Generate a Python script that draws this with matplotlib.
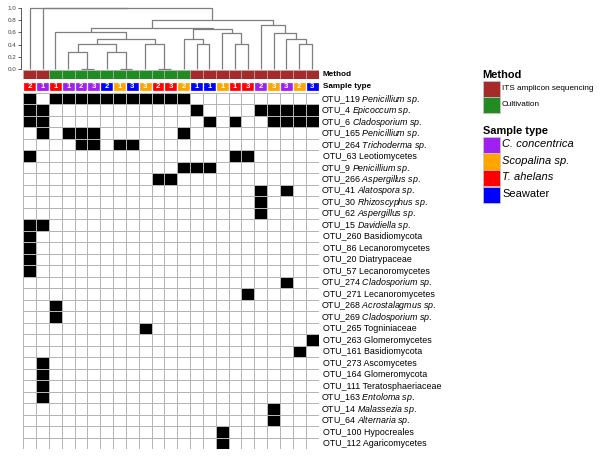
import matplotlib
matplotlib.use("Agg")
import matplotlib.pyplot as plt
import numpy as np
from matplotlib.colors import ListedColormap
from matplotlib.patches import Rectangle

plt.rcParams['font.family'] = ['Liberation Sans', 'DejaVu Sans']
plt.rcParams['mathtext.fontset'] = 'custom'
plt.rcParams['mathtext.rm'] = 'Liberation Sans'
plt.rcParams['mathtext.it'] = 'Liberation Sans:italic'

# ---- data ----
method = ['ITS'] * 2 + ['Cultivation'] * 11 + ['ITS'] * 10
sample_type = ['T. ahelans', 'C. concentrica', 'T. ahelans', 'C. concentrica', 'C. concentrica',
               'C. concentrica', 'Seawater', 'Scopalina sp.', 'Seawater', 'Scopalina sp.',
               'T. ahelans', 'T. ahelans', 'Scopalina sp.', 'Seawater', 'Seawater',
               'Scopalina sp.', 'T. ahelans', 'T. ahelans', 'C. concentrica', 'Scopalina sp.',
               'C. concentrica', 'Scopalina sp.', 'Seawater']
replicate = [2, 1, 1, 1, 2, 3, 2, 1, 3, 3, 2, 3, 2, 1, 1, 1, 1, 3, 2, 3, 3, 2, 3]

otu_ids = ['OTU_119', 'OTU_4', 'OTU_6', 'OTU_165', 'OTU_264', 'OTU_63', 'OTU_9', 'OTU_266',
           'OTU_41', 'OTU_30', 'OTU_62', 'OTU_15', 'OTU_260', 'OTU_86', 'OTU_20', 'OTU_57',
           'OTU_274', 'OTU_271', 'OTU_268', 'OTU_269', 'OTU_265', 'OTU_263', 'OTU_161',
           'OTU_273', 'OTU_164', 'OTU_111', 'OTU_163', 'OTU_14', 'OTU_64', 'OTU_100', 'OTU_112']
taxa = ['Penicillium sp.', 'Epicoccum sp.', 'Cladosporium sp.', 'Penicillium sp.',
        'Trichoderma sp.', 'Leotiomycetes', 'Penicillium sp.', 'Aspergillus sp.',
        'Alatospora sp.', 'Rhizoscyphus sp.', 'Aspergillus sp.', 'Davidiella sp.',
        'Basidiomycota', 'Lecanoromycetes', 'Diatrypaceae', 'Lecanoromycetes',
        'Cladosporium sp.', 'Lecanoromycetes', 'Acrostalagmus sp.', 'Cladosporium sp.',
        'Togniniaceae', 'Glomeromycetes', 'Basidiomycota', 'Ascomycetes', 'Glomeromycota',
        'Teratosphaeriaceae', 'Entoloma sp.', 'Malassezia sp.', 'Alternaria sp.',
        'Hypocreales', 'Agaricomycetes']

# samples (1-based column) in which each OTU is present
present = [
    [1, 3, 4, 5, 6, 7, 8, 9, 10, 11, 12, 13],
    [1, 2, 14, 19, 20, 21, 22, 23],
    [1, 2, 15, 17, 20, 21, 22, 23],
    [2, 4, 5, 6, 13],
    [5, 6, 8, 9],
    [1, 17, 18],
    [13, 14, 15],
    [11, 12],
    [19, 21],
    [19],
    [19],
    [1, 2],
    [1], [1], [1], [1],
    [21], [18], [3], [3], [10], [23], [22],
    [2], [2], [2], [2],
    [20], [20], [16], [16],
]

# dendrogram merges: (child a, child b, height); leaves 0..22, new nodes from 23
merges = [(4, 5, 0.0), (7, 8, 0.0), (10, 11, 0.0), (3, 23, 0.28), (6, 24, 0.28),
          (26, 27, 0.415), (9, 25, 0.415), (28, 29, 0.50), (2, 30, 0.60),
          (13, 14, 0.415), (12, 32, 0.50), (16, 17, 0.415), (15, 34, 0.585),
          (33, 35, 0.65), (31, 36, 0.67), (21, 22, 0.415), (20, 38, 0.50),
          (19, 39, 0.585), (18, 40, 0.72), (37, 41, 0.80), (1, 42, 1.0), (0, 43, 1.0)]

method_colors = {'ITS': '#A52A2A', 'Cultivation': '#228B22'}
method_names = {'ITS': 'ITS amplicon sequencing', 'Cultivation': 'Cultivation'}
type_colors = {'C. concentrica': '#A020F0', 'Scopalina sp.': '#FFA500',
               'T. ahelans': '#FF0000', 'Seawater': '#0000FF'}

n_col = len(method)
n_row = len(otu_ids)
mat = np.zeros((n_row, n_col))
for r, cols in enumerate(present):
    for c in cols:
        mat[r, c - 1] = 1

# ---- layout (pixels) ----
W, H = 600, 457
fig = plt.figure(figsize=(W / 100, H / 100), dpi=100)


def px_axes(l, t, w, h):
    return fig.add_axes([l / W, 1 - (t + h) / H, w / W, h / H])


gl, gw = 23.3, 295.2

# dendrogram
ax_d = px_axes(gl, 8.3, gw, 60.4)
xpos = [i + 0.5 for i in range(n_col)]
hts = [0.0] * n_col
for a, b, h in merges:
    ax_d.plot([xpos[a], xpos[a], xpos[b], xpos[b]], [hts[a], h, h, hts[b]],
              color='#7f7f7f', lw=0.9, clip_on=False, solid_capstyle='butt')
    xpos.append((xpos[a] + xpos[b]) / 2)
    hts.append(h)
ax_d.set_xlim(0, n_col)
ax_d.set_ylim(0, 1)
for s in ['top', 'right', 'bottom']:
    ax_d.spines[s].set_visible(False)
ax_d.spines['left'].set_position(('outward', 1.5))
ax_d.spines['left'].set_color('#404040')
ax_d.spines['left'].set_linewidth(0.6)
ax_d.set_xticks([])
ax_d.set_yticks(np.arange(0, 1.01, 0.2))
ax_d.set_yticklabels(['%.1f' % v for v in np.arange(0, 1.01, 0.2)])
ax_d.tick_params(axis='y', length=2, width=0.6, pad=1.5, labelsize=4.5,
                 colors='#404040')
ax_d.patch.set_visible(False)

# method row
ax_m = px_axes(gl, 70, gw, 9.3)
ax_m.bar(np.arange(n_col) + 0.5, 1, width=1, color=[method_colors[m] for m in method],
         edgecolor='#b8b8b8', linewidth=0.4)
ax_m.set_xlim(0, n_col)
ax_m.set_ylim(0, 1)
ax_m.axis('off')
ax_m.text(n_col + 0.33, 0.5, 'Method', ha='left', va='center', fontsize=5.9,
          fontweight='bold')

# sample type row
ax_s = px_axes(gl, 81.7, gw, 9.3)
ax_s.bar(np.arange(n_col) + 0.5, 1, width=1, color=[type_colors[t] for t in sample_type],
         edgecolor='white', linewidth=0.9)
for i, rep in enumerate(replicate):
    ax_s.text(i + 0.5, 0.5, str(rep), ha='center', va='center', color='white',
              fontsize=5.6, fontweight='bold')
ax_s.set_xlim(0, n_col)
ax_s.set_ylim(0, 1)
ax_s.axis('off')
ax_s.text(n_col + 0.33, 0.5, 'Sample type', ha='left', va='center', fontsize=5.9,
          fontweight='bold')

# presence/absence heatmap
ax_h = px_axes(gl, 92.7, gw, 356.3)
ax_h.pcolormesh(np.arange(n_col + 1), np.arange(n_row + 1), mat,
                cmap=ListedColormap(['white', 'black']), vmin=0, vmax=1,
                edgecolors='#b5b5b5', linewidth=0.7)
ax_h.set_xlim(0, n_col)
ax_h.set_ylim(n_row, 0)
ax_h.axis('off')

# row labels: genus names in italic
fs = 6.4
for r in range(n_row):
    x = n_col + 0.33
    if taxa[r].endswith(' sp.'):
        label = otu_ids[r] + ' $\\mathit{' + taxa[r].replace(' ', '\\ ') + '}$'
        x -= 0.12
    else:
        label = otu_ids[r] + ' ' + taxa[r]
    ax_h.text(x, r + 0.5 + 0.27, label, ha='left', va='baseline',
              fontsize=fs, clip_on=False)

# legends
ax_l = fig.add_axes([0, 0, 1, 1])
ax_l.set_xlim(0, W)
ax_l.set_ylim(H, 0)
ax_l.axis('off')
lx, sw = 483.3, 16.7
ax_l.text(482.7, 75, 'Method', fontsize=7.9, fontweight='bold', ha='left', va='center')
for k, m in enumerate(['ITS', 'Cultivation']):
    y0 = 80.7 + k * 16.3
    ax_l.add_patch(Rectangle((lx, y0), sw, 16.3, facecolor=method_colors[m],
                             edgecolor='#c8c8c8', linewidth=0.5))
    ax_l.text(lx + sw + 2, y0 + 7.8, method_names[m], fontsize=5.9, ha='left',
              va='center')

ax_l.text(482.7, 130.7, 'Sample type', fontsize=7.9, fontweight='bold', ha='left',
          va='center')
for k, st in enumerate(['C. concentrica', 'Scopalina sp.', 'T. ahelans', 'Seawater']):
    y0 = 136.7 + k * 16.6
    ax_l.add_patch(Rectangle((lx, y0), sw, 16.6, facecolor=type_colors[st],
                             edgecolor='#c8c8c8', linewidth=0.5))
    ax_l.text(lx + sw + 2.5, y0 + 7.6, st, fontsize=8, ha='left', va='center',
              style='normal' if st == 'Seawater' else 'italic')

fig.savefig('out.png', dpi=100)
